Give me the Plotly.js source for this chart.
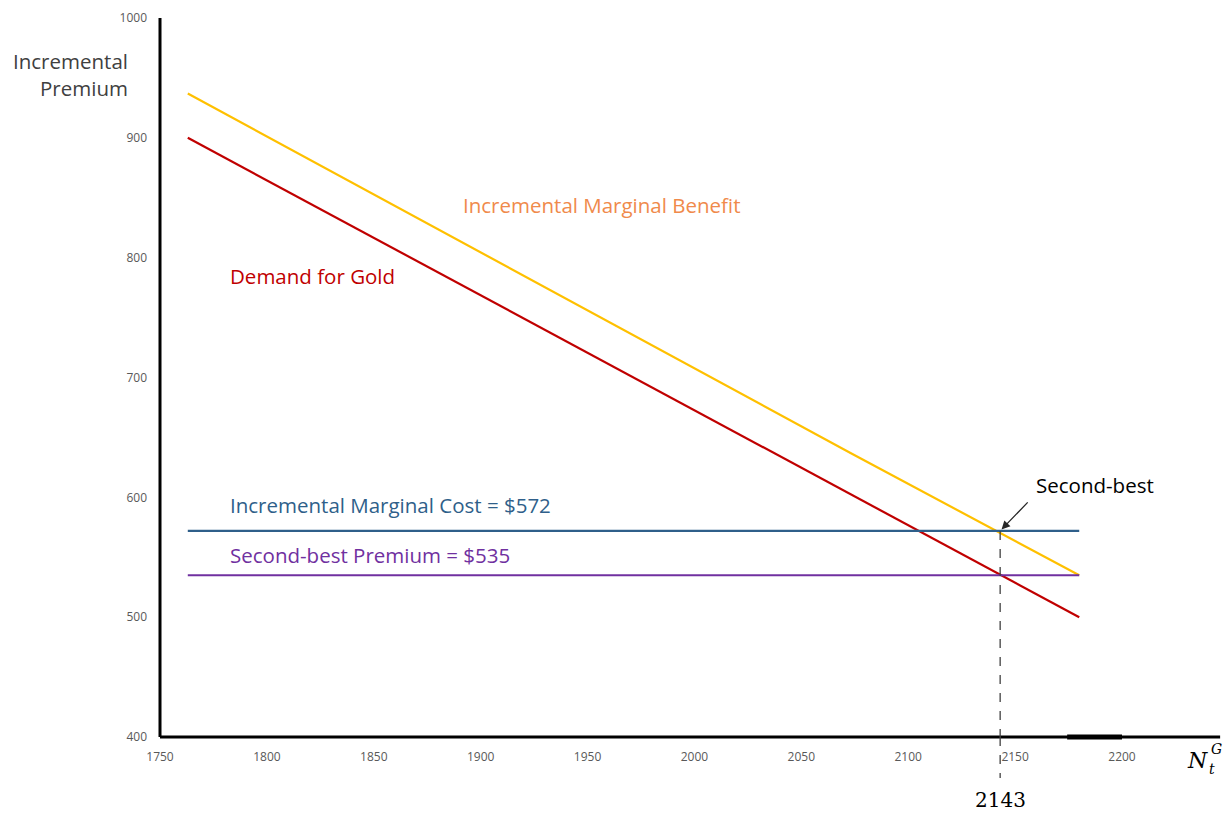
<!DOCTYPE html>
<html>
<head>
<meta charset="utf-8">
<script src="https://cdn.plot.ly/plotly-3.0.1.min.js"></script>
<style>html,body{margin:0;padding:0;background:#fff;}#chart{width:1228px;height:819px;}</style>
</head>
<body>
<div id="chart"></div>
<script>
// ---- data ----
const quantityRange = [1763, 2180];
const demandX = [1763, 2180];
const demandY = [900, 500];
const benefitX = [1763, 2073, 2180];
const benefitY = [937, 637, 535];
const marginalCost = 572;
const secondBestPremium = 535;
const secondBestQuantity = 2143;
const xTicks = [1750, 1800, 1850, 1900, 1950, 2000, 2050, 2100, 2150, 2200];
const yTicks = [400, 500, 600, 700, 800, 900, 1000];

const labelFont = "'Open Sans', Lato, sans-serif";
const serifFont = "'DejaVu Serif', serif";
const textSize = 20.5;

const traces = [
  {x: benefitX, y: benefitY, mode: 'lines', line: {color: '#FFC000', width: 2.2}, hoverinfo: 'skip'},
  {x: demandX, y: demandY, mode: 'lines', line: {color: '#C00000', width: 2.2}, hoverinfo: 'skip'},
  {x: quantityRange, y: [marginalCost, marginalCost], mode: 'lines', line: {color: '#2F5F8A', width: 2.2}, hoverinfo: 'skip'},
  {x: quantityRange, y: [secondBestPremium, secondBestPremium], mode: 'lines', line: {color: '#7030A0', width: 2.2}, hoverinfo: 'skip'}
];

const layout = {
  width: 1228, height: 819,
  margin: {l: 160, r: 106, t: 18, b: 82},
  paper_bgcolor: '#fff', plot_bgcolor: '#fff',
  showlegend: false,
  xaxis: {
    range: [1750, 2200], tickvals: xTicks, ticktext: xTicks.map(String),
    showgrid: false, zeroline: false, showline: false, ticks: '',
    tickfont: {family: labelFont, size: 12, color: '#595959'}, ticklabelstandoff: 11
  },
  yaxis: {
    range: [400, 1000], tickvals: yTicks, ticktext: yTicks.map(String),
    showgrid: false, zeroline: false, showline: false, ticks: '',
    tickfont: {family: labelFont, size: 12, color: '#595959'}, ticklabelstandoff: 12
  },
  shapes: [
    {type: 'line', xref: 'paper', yref: 'paper', x0: 0, x1: 0, y0: 0, y1: 1, line: {color: '#000', width: 3}},
    {type: 'line', xref: 'paper', yref: 'paper', x0: 0, x1: 1.102, y0: 0, y1: 0, line: {color: '#000', width: 3}},
    {type: 'line', xref: 'paper', yref: 'paper', x0: 0.943, x1: 1.0, y0: 0, y1: 0, line: {color: '#000', width: 5}},
    {type: 'line', xref: 'x', yref: 'y', x0: secondBestQuantity, x1: secondBestQuantity, y0: marginalCost, y1: 400, line: {color: '#404040', width: 1.3, dash: 'dash'}},
    {type: 'line', xref: 'x', yref: 'paper', x0: secondBestQuantity, x1: secondBestQuantity, y0: 0, y1: -0.057, line: {color: '#404040', width: 1.3, dash: 'dash'}}
  ],
  annotations: [
    {xref: 'paper', yref: 'paper', x: -0.031, y: 0.922, xanchor: 'right', yanchor: 'middle', align: 'right', showarrow: false,
     text: 'Incremental<br>Premium', font: {family: labelFont, size: textSize, color: '#404040'}},
    {xref: 'x', yref: 'y', x: 1891, y: 844, xanchor: 'left', yanchor: 'middle', showarrow: false,
     text: 'Incremental Marginal Benefit', font: {family: labelFont, size: textSize, color: '#F08A4B'}},
    {xref: 'x', yref: 'y', x: 1782, y: 785, xanchor: 'left', yanchor: 'middle', showarrow: false,
     text: 'Demand for Gold', font: {family: labelFont, size: textSize, color: '#C00000'}},
    {xref: 'x', yref: 'y', x: 1782, y: 593.5, xanchor: 'left', yanchor: 'middle', showarrow: false,
     text: 'Incremental Marginal Cost = $572', font: {family: labelFont, size: textSize, color: '#2F5F8A'}},
    {xref: 'x', yref: 'y', x: 1782, y: 552, xanchor: 'left', yanchor: 'middle', showarrow: false,
     text: 'Second-best Premium = $535', font: {family: labelFont, size: textSize, color: '#7030A0'}},
    {xref: 'x', yref: 'y', x: 2159, y: 610, xanchor: 'left', yanchor: 'middle', showarrow: false,
     text: 'Second-best', font: {family: labelFont, size: textSize, color: '#000'}},
    {xref: 'x', yref: 'y', x: secondBestQuantity, y: marginalCost, text: '', showarrow: true,
     ax: 29, ay: -30, arrowhead: 2, arrowsize: 1.3, arrowwidth: 1.3, arrowcolor: '#262626', standoff: 2},
    {xref: 'x', yref: 'paper', x: secondBestQuantity, y: -0.0876, xanchor: 'center', yanchor: 'middle', showarrow: false,
     text: String(secondBestQuantity), font: {family: serifFont, size: 20, color: '#000'}},
    {xref: 'paper', yref: 'paper', x: 1.079, y: -0.032, xanchor: 'center', yanchor: 'middle', showarrow: false,
     text: '<i>N</i>', font: {family: serifFont, size: 22, color: '#000'}},
    {xref: 'paper', yref: 'paper', x: 1.0936, y: -0.0445, xanchor: 'center', yanchor: 'middle', showarrow: false,
     text: '<i>t</i>', font: {family: serifFont, size: 14, color: '#000'}},
    {xref: 'paper', yref: 'paper', x: 1.098, y: -0.0167, xanchor: 'center', yanchor: 'middle', showarrow: false,
     text: '<i>G</i>', font: {family: serifFont, size: 14, color: '#000'}}
  ]
};

Plotly.newPlot('chart', traces, layout, {displayModeBar: false, staticPlot: true});
</script>
</body>
</html>
